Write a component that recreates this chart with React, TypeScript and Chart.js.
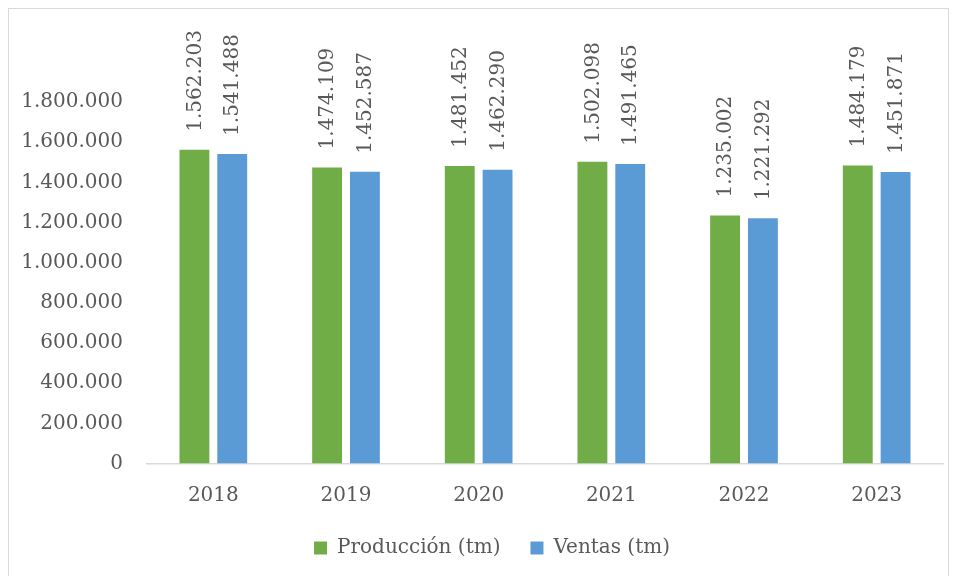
import React, { useEffect, useRef } from "react";
import { Chart, registerables } from "chart.js";

Chart.register(...registerables);

const categories = ["2018", "2019", "2020", "2021", "2022", "2023"];
const produccion = [1562203, 1474109, 1481452, 1502098, 1235002, 1484179];
const ventas = [1541488, 1452587, 1462290, 1491465, 1221292, 1451871];
const seriesNames = ["Producción (tm)", "Ventas (tm)"];
const yMax = 1800000;
const yStep = 200000;

const FONT = "'DejaVu Serif', serif";
const TEXT = "#595959";

function fmt(v: number): string {
  return String(Math.round(v)).replace(/\B(?=(\d{3})+(?!\d))/g, ".");
}

const labelPlugin = {
  id: "rotatedLabels",
  afterLayout(chart: any) {
    if (chart.legend) {
      chart.legend.left += 16;
      chart.legend.right += 16;
    }
  },
  afterDatasetsDraw(chart: any) {
    const ctx = chart.ctx;
    ctx.save();
    ctx.font = `20px ${FONT}`;
    ctx.fillStyle = TEXT;
    chart.data.datasets.forEach((ds: any, di: number) => {
      const meta = chart.getDatasetMeta(di);
      meta.data.forEach((bar: any, i: number) => {
        ctx.save();
        ctx.translate(bar.x, bar.y - 18);
        ctx.rotate(-Math.PI / 2);
        ctx.textAlign = "left";
        ctx.textBaseline = "middle";
        ctx.fillText(fmt(ds.data[i]), 0, 1);
        ctx.restore();
      });
    });
    ctx.restore();
  },
};

export default function App() {
  const ref = useRef<HTMLCanvasElement>(null);
  useEffect(() => {
    if (!ref.current) return;
    const chart = new Chart(ref.current, {
      type: "bar",
      data: {
        labels: categories,
        datasets: [
          {
            label: seriesNames[0],
            data: produccion,
            backgroundColor: "#70AD47",
            categoryPercentage: 0.57,
            barPercentage: 0.79,
          },
          {
            label: seriesNames[1],
            data: ventas,
            backgroundColor: "#5B9BD5",
            categoryPercentage: 0.57,
            barPercentage: 0.79,
          },
        ],
      },
      options: {
        animation: false,
        responsive: false,
        maintainAspectRatio: false,
        layout: { padding: { top: 93, right: 4, left: 0, bottom: 18 } },
        plugins: {
          legend: {
            position: "bottom",
            labels: {
              font: { family: FONT, size: 20 },
              color: TEXT,
              boxWidth: 13,
              boxHeight: 13,
              padding: 30,
            },
          },
          tooltip: { enabled: false },
        },
        scales: {
          x: {
            grid: { display: false, drawTicks: false },
            border: { display: true, color: "#D9D9D9", width: 1.5 },
            ticks: { font: { family: FONT, size: 20 }, color: TEXT, padding: 20 },
            afterFit: (s: any) => {
              s.height = s.height - 19.5;
            },
          },
          y: {
            min: 0,
            max: yMax,
            grid: { display: false, drawTicks: false },
            border: { display: false },
            ticks: {
              stepSize: yStep,
              font: { family: FONT, size: 20 },
              color: TEXT,
              padding: 24,
              callback: (v: any) => fmt(Number(v)),
            },
            afterFit: (s: any) => {
              s.width = 138;
            },
          },
        },
      },
      plugins: [labelPlugin],
    });
    return () => chart.destroy();
  }, []);
  return (
    <div style={{ width: 941, height: 580, border: "1.5px solid #D9D9D9", boxSizing: "border-box" }}>
      <canvas ref={ref} width={938} height={577} style={{ display: "block" }} />
    </div>
  );
}
